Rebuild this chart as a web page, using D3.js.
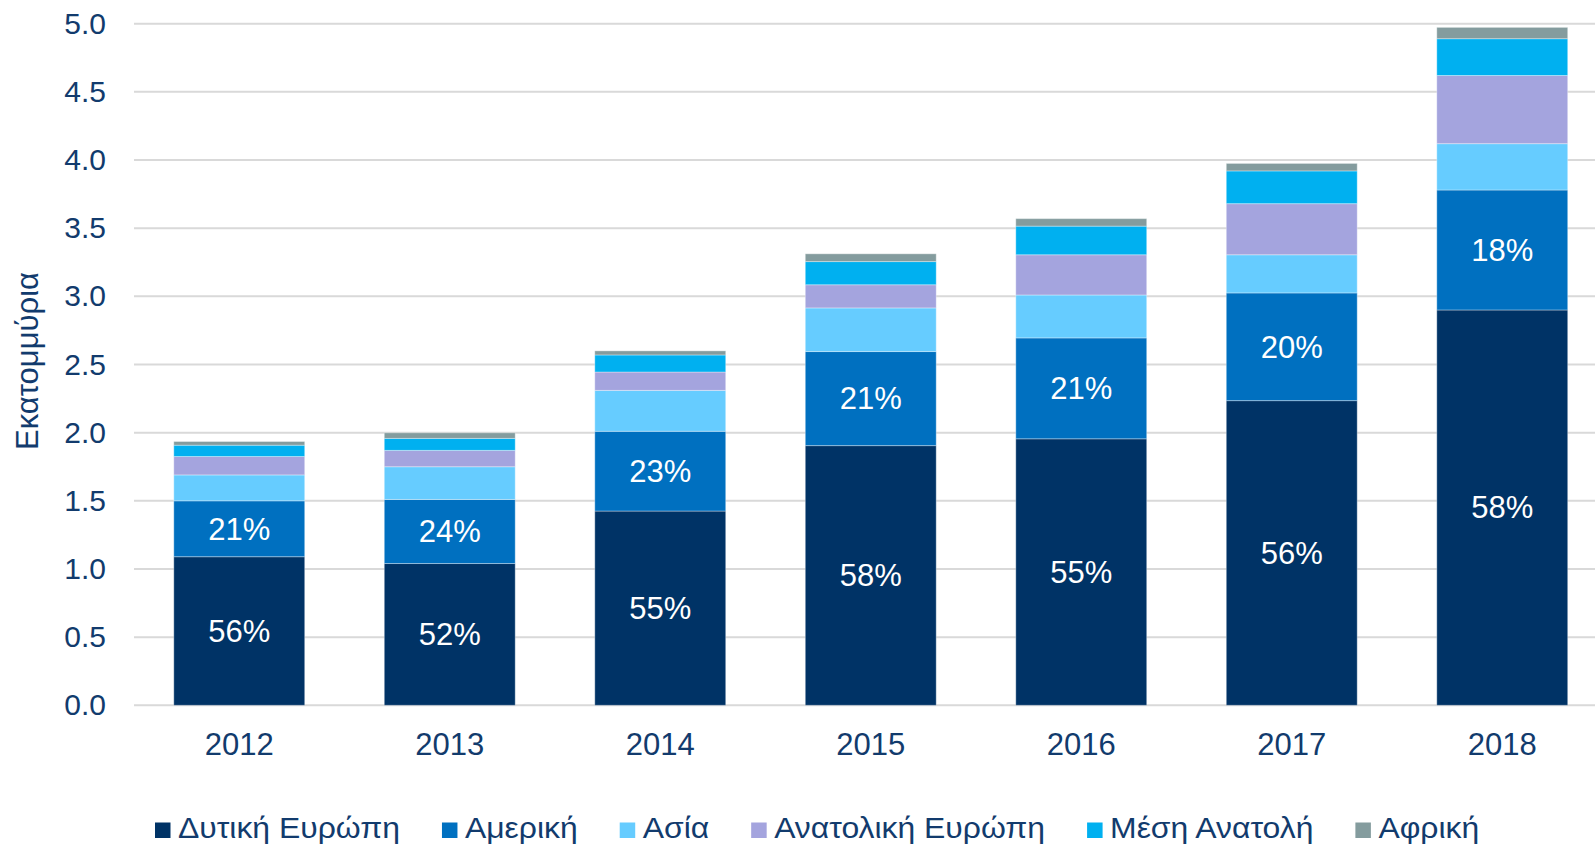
<!DOCTYPE html>
<html>
<head>
<meta charset="utf-8">
<script src="https://cdn.jsdelivr.net/npm/d3@7"></script>
<style>
  body { margin: 0; background: #fff; }
  text { font-family: "Liberation Sans", Arial, sans-serif; }
</style>
</head>
<body>
<svg id="chart" width="1595" height="848"></svg>
<script>
// data (millions)
const years = ["2012", "2013", "2014", "2015", "2016", "2017", "2018"];
const regions = ["Δυτική Ευρώπη", "Αμερική", "Ασία", "Ανατολική Ευρώπη", "Μέση Ανατολή", "Αφρική"];
const westEurope = [1.09, 1.04, 1.425, 1.905, 1.955, 2.235, 2.90];
const america = [0.41, 0.47, 0.585, 0.69, 0.74, 0.79, 0.88];
const asia = [0.19, 0.24, 0.30, 0.32, 0.315, 0.28, 0.34];
const eastEurope = [0.135, 0.12, 0.135, 0.17, 0.295, 0.375, 0.50];
const middleEast = [0.083, 0.088, 0.125, 0.17, 0.21, 0.24, 0.27];
const africa = [0.027, 0.041, 0.03, 0.057, 0.055, 0.055, 0.083];
const westLabels = ["56%", "52%", "55%", "58%", "55%", "56%", "58%"];
const americaLabels = ["21%", "24%", "23%", "21%", "21%", "20%", "18%"];
const yTicks = [0, 0.5, 1, 1.5, 2, 2.5, 3, 3.5, 4, 4.5, 5];

const colors = ["#003366", "#0070C0", "#66CCFF", "#A4A4DE", "#00B0F0", "#849C9E"];
const textColor = "#123B6D";

const series = [westEurope, america, asia, eastEurope, middleEast, africa];
const table = years.map(function (y, i) {
  const row = { year: y };
  regions.forEach(function (r, k) { row[r] = series[k][i]; });
  return row;
});

const svg = d3.select("#chart");
const plotLeft = 134, plotTop = 23.7, plotBottom = 705.3;
const step = 210.5;

const x = d3.scaleBand()
  .domain(years)
  .range([plotLeft, plotLeft + step * years.length])
  .paddingInner(0.378)
  .paddingOuter(0.189);

const y = d3.scaleLinear().domain([0, 5]).range([plotBottom, plotTop]);

// gridlines
svg.append("g")
  .selectAll("line")
  .data(yTicks)
  .enter()
  .append("line")
  .attr("x1", plotLeft)
  .attr("x2", 1595)
  .attr("y1", function (d) { return y(d); })
  .attr("y2", function (d) { return y(d); })
  .attr("stroke", "#D9D9D9")
  .attr("stroke-width", 2);

// y axis labels
const yAxis = svg.append("g")
  .attr("transform", "translate(106,0)")
  .call(d3.axisLeft(y).tickValues(yTicks).tickFormat(d3.format(".1f")).tickSize(0).tickPadding(0));
yAxis.select(".domain").remove();
yAxis.selectAll("text")
  .attr("fill", textColor)
  .style("font-size", "30px")
  .style("font-family", "'Liberation Sans', Arial, sans-serif");

// stacked bars
const stack = d3.stack().keys(regions);
const layers = stack(table);

svg.append("g")
  .selectAll("g")
  .data(layers)
  .enter()
  .append("g")
  .attr("fill", function (d, i) { return colors[i]; })
  .selectAll("rect")
  .data(function (d) { return d; })
  .enter()
  .append("rect")
  .attr("x", function (d) { return x(d.data.year); })
  .attr("width", x.bandwidth())
  .attr("y", function (d) { return y(d[1]); })
  .attr("height", function (d) { return y(d[0]) - y(d[1]); })
  .attr("stroke", "#ffffff")
  .attr("stroke-opacity", 0.35)
  .attr("stroke-width", 1);

// percentage labels on the two lower segments
[[0, westLabels], [1, americaLabels]].forEach(function (p) {
  const layer = layers[p[0]];
  svg.append("g")
    .selectAll("text")
    .data(layer)
    .enter()
    .append("text")
    .attr("x", function (d) { return x(d.data.year) + x.bandwidth() / 2; })
    .attr("y", function (d) { return y((d[0] + d[1]) / 2); })
    .attr("dy", "0.35em")
    .attr("text-anchor", "middle")
    .attr("fill", "#ffffff")
    .style("font-size", "31px")
    .text(function (d, i) { return p[1][i]; });
});

// x axis labels
const xAxis = svg.append("g")
  .attr("transform", "translate(0," + plotBottom + ")")
  .call(d3.axisBottom(x).tickSize(0).tickPadding(28));
xAxis.select(".domain").remove();
xAxis.selectAll("text")
  .attr("fill", textColor)
  .style("font-size", "31px")
  .style("font-family", "'Liberation Sans', Arial, sans-serif");

// y axis title
svg.append("text")
  .attr("transform", "translate(38,361) rotate(-90)")
  .attr("text-anchor", "middle")
  .attr("fill", textColor)
  .style("font-size", "31px")
  .text("Εκατομμύρια");

// legend (text is a little wider in the original)
const legend = svg.append("g").attr("transform", "translate(0,838)");
let lx = 155;
regions.forEach(function (r, i) {
  legend.append("rect")
    .attr("x", lx)
    .attr("y", -15.5)
    .attr("width", 15.5)
    .attr("height", 15.5)
    .attr("fill", colors[i]);
  const tg = legend.append("g")
    .attr("transform", "translate(" + (lx + 23) + ",0) scale(1.1,1)");
  const t = tg.append("text")
    .attr("x", 0)
    .attr("y", 0)
    .attr("fill", textColor)
    .style("font-size", "29px")
    .text(r);
  lx += 23 + t.node().getComputedTextLength() * 1.1 + 42;
});
</script>
</body>
</html>
